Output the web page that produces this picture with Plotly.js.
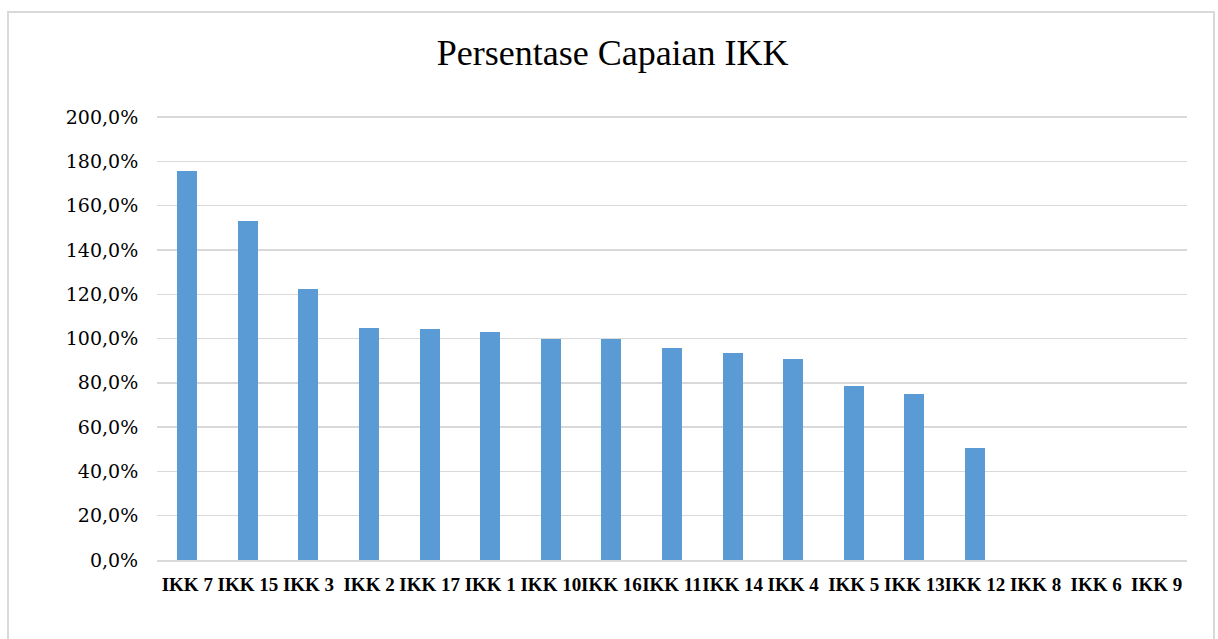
<!DOCTYPE html>
<html>
<head>
<meta charset="utf-8">
<script src="https://cdn.plot.ly/plotly-3.0.1.min.js"></script>
<style>
html,body{margin:0;padding:0;background:#fff;overflow:hidden;}
#frame{position:absolute;left:7px;top:11px;width:1208px;height:700px;border:2px solid #d9d9d9;box-sizing:border-box;}
#chart{position:absolute;left:0;top:0;width:1218px;height:639px;}
</style>
</head>
<body>
<div id="frame"></div>
<div id="chart"></div>
<script>
const categories = ["IKK 7","IKK 15","IKK 3","IKK 2","IKK 17","IKK 1","IKK 10","IKK 16","IKK 11","IKK 14","IKK 4","IKK 5","IKK 13","IKK 12","IKK 8","IKK 6","IKK 9"];
const values = [175.6, 153.0, 122.3, 104.7, 104.2, 102.8, 100.0, 100.0, 95.6, 93.5, 90.9, 78.6, 74.9, 50.7, 0, 0, 0];
const yTicks = [0,20,40,60,80,100,120,140,160,180,200];
const yTickText = yTicks.map(v => v.toFixed(1).replace('.', ',') + '%');

const trace = {
  type: 'bar',
  x: categories,
  y: values,
  width: 0.33,
  marker: {color: '#5B9BD5', line: {width: 0}},
  hoverinfo: 'none'
};

const layout = {
  width: 1218, height: 639,
  paper_bgcolor: 'rgba(0,0,0,0)',
  plot_bgcolor: 'rgba(0,0,0,0)',
  margin: {l: 157, r: 31, t: 116, b: 79},
  title: {text: 'Persentase Capaian IKK', x: 0.503, xanchor: 'center', y: 0.918, yanchor: 'middle',
          font: {family: 'Liberation Serif, serif', size: 36, color: '#000'}},
  showlegend: false,
  bargap: 0,
  xaxis: {
    type: 'category',
    tickangle: 0,
    tickfont: {family: 'Liberation Serif, serif', size: 19, color: '#000', weight: 'bold'},
    showgrid: false,
    showline: true, linecolor: '#d9d9d9', linewidth: 1.5,
    ticks: 'outside', ticklen: 7, tickcolor: 'rgba(0,0,0,0)',
    zeroline: false, fixedrange: true
  },
  yaxis: {
    range: [0, 200.5],
    tickvals: yTicks,
    ticktext: yTickText,
    tickfont: {family: 'DejaVu Serif, serif', size: 19, color: '#000'},
    showgrid: true, gridcolor: '#d9d9d9', gridwidth: 1.5,
    zeroline: false, showline: false,
    ticks: 'outside', ticklen: 14, tickcolor: 'rgba(0,0,0,0)',
    fixedrange: true
  }
};

Plotly.newPlot('chart', [trace], layout, {displayModeBar: false, staticPlot: true});
</script>
</body>
</html>
